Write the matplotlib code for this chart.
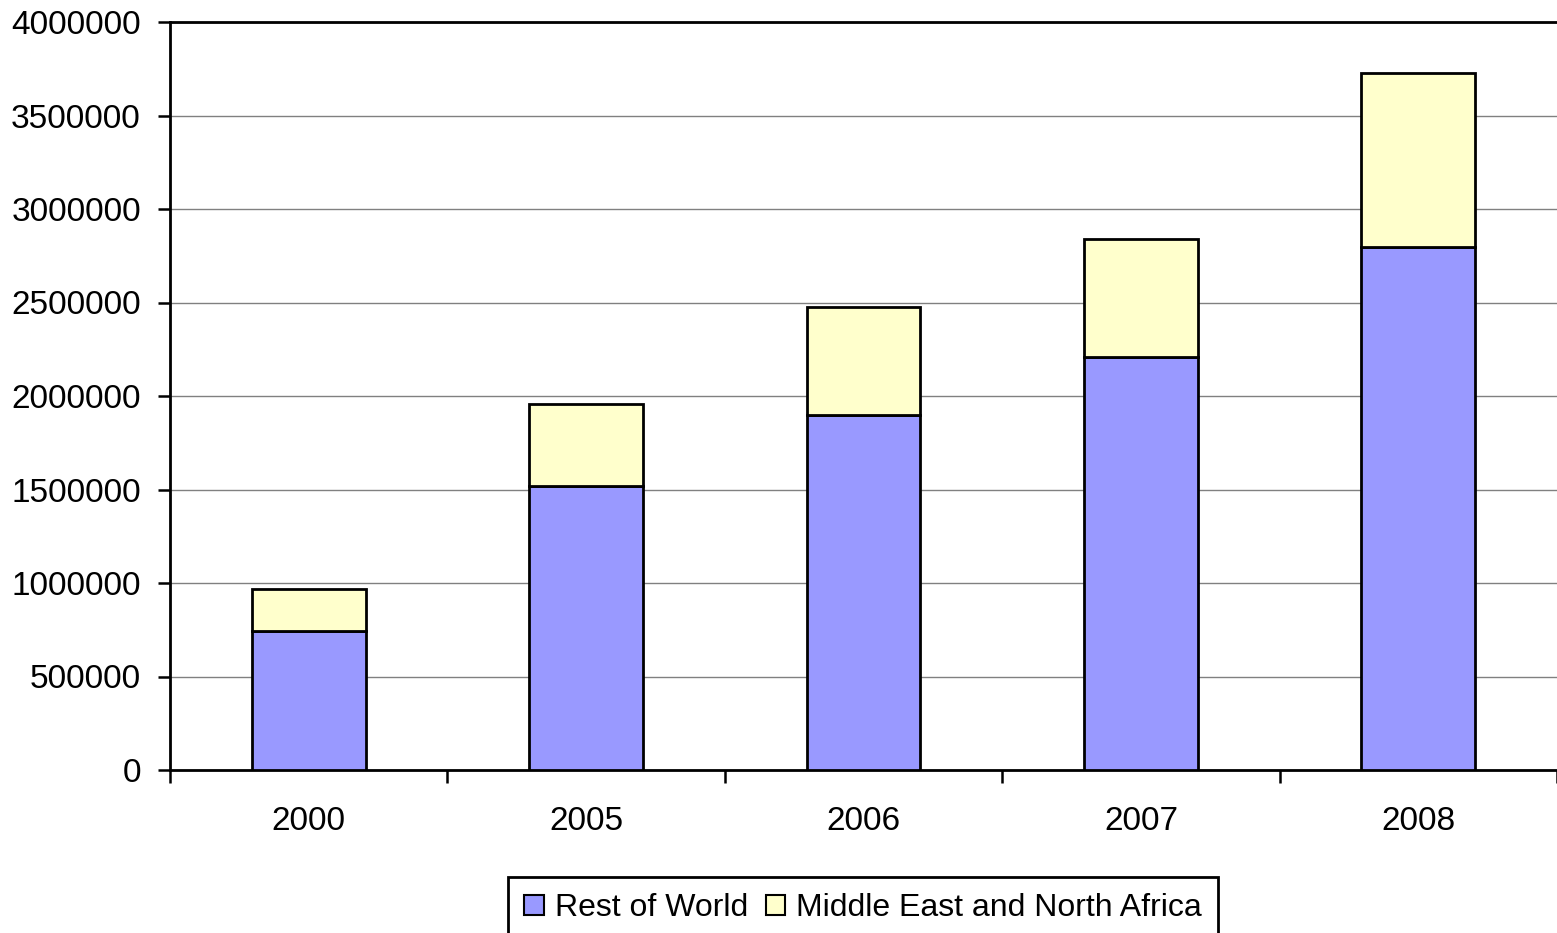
import matplotlib
matplotlib.use("Agg")
import matplotlib.pyplot as plt
import numpy as np

years = ["2000", "2005", "2006", "2007", "2008"]
rest_of_world = [743000, 1519000, 1898000, 2209000, 2797000]
mena = [225000, 438000, 578000, 631000, 930000]

plt.rcParams.update({
    "font.family": ["Liberation Sans", "DejaVu Sans"],
    "font.size": 24,
})

fig = plt.figure(figsize=(15.57, 9.33), dpi=100)
ax = fig.add_axes([170 / 1557, 1 - 770 / 933, 1 - 170 / 1557, (770 - 22) / 933])

x = np.arange(len(years))
width = 0.41
ax.bar(x, rest_of_world, width, color="#9999FF", edgecolor="black", linewidth=2,
       label="Rest of World", zorder=3)
ax.bar(x, mena, width, bottom=rest_of_world, color="#FFFFCC", edgecolor="black",
       linewidth=2, label="Middle East and North Africa", zorder=3)

ax.set_xlim(-0.5, len(years) - 0.5)
ax.set_ylim(0, 4000000)
ax.set_yticks(np.arange(0, 4000001, 500000))
ax.set_yticklabels([f"{int(v)}" for v in np.arange(0, 4000001, 500000)])
ax.grid(axis="y", color="#808080", linewidth=1, zorder=0)

ax.set_xticks(x)
ax.set_xticklabels(years)
ax.set_xticks(np.arange(-0.5, len(years), 1.0), minor=True)
ax.tick_params(axis="x", which="major", length=0, pad=26)
ax.tick_params(axis="x", which="minor", length=9, width=1.8, direction="out")
ax.tick_params(axis="y", length=9, width=1.8, direction="out", pad=12)

for side in ["left", "bottom", "top"]:
    ax.spines[side].set_linewidth(2)
ax.spines["right"].set_visible(False)

leg = fig.legend(loc="upper center", bbox_to_anchor=(863 / 1557, 1 - 877 / 933),
                 ncol=2, frameon=True, fancybox=False, edgecolor="black",
                 framealpha=1, borderaxespad=0,
                 handlelength=0.6, handleheight=0.6, handletextpad=0.35,
                 columnspacing=0.55, borderpad=0.5, fontsize=23)
leg.get_frame().set_linewidth(2)
for h in leg.legend_handles:
    h.set_linewidth(1.5)

fig.savefig("out.png", dpi=100)
